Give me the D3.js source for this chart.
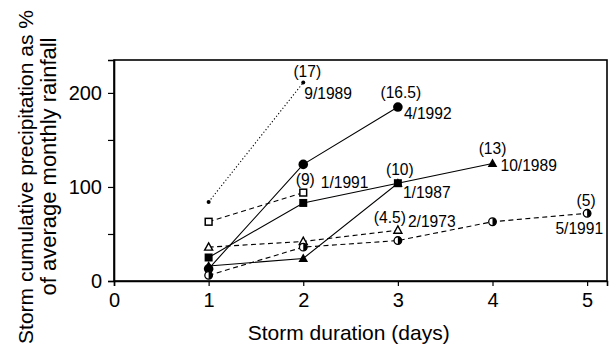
<!DOCTYPE html>
<html><head><meta charset="utf-8">
<script src="https://cdn.jsdelivr.net/npm/d3@7"></script>
<style>
html,body{margin:0;padding:0;background:#fff;}
text{font-family:"Liberation Sans",Arial,Helvetica,sans-serif;fill:#000;}
</style>
</head><body>
<svg id="chart" width="611" height="348"></svg>
<script>
// ---- data ----
const seriesNames = ["9/1989", "4/1992", "1/1991", "1/1987", "10/1989", "2/1973", "5/1991"];
const stormTotals = ["(17)", "(16.5)", "(9)", "(10)", "(13)", "(4.5)", "(5)"];
const durations9_1989  = [1, 2];
const values9_1989     = [84, 211];
const durations4_1992  = [1, 2, 3];
const values4_1992     = [13, 124, 185];
const durations1_1991  = [1, 2];
const values1_1991     = [63, 94];
const durations1_1987  = [1, 2, 3];
const values1_1987     = [25, 83, 104];
const durations10_1989 = [1, 2, 3, 4];
const values10_1989    = [16, 24, 104, 125];
const durations2_1973  = [1, 2, 3];
const values2_1973     = [36, 42, 54];
const durations5_1991  = [1, 2, 3, 4, 5];
const values5_1991     = [6, 36, 43, 63, 72];
const xTicks = [0, 1, 2, 3, 4, 5];
const yTicks = [0, 50, 100, 150, 200];
const yTickLabels = ["0", "", "100", "", "200"];

// ---- styles ----
const styleOf = {
  "9/1989":  {dash: "1.2,2.2", marker: "dot"},
  "4/1992":  {dash: null, marker: "circle"},
  "1/1991":  {dash: "5,3.5", marker: "openSquare"},
  "1/1987":  {dash: null, marker: "square"},
  "10/1989": {dash: null, marker: "triangle"},
  "2/1973":  {dash: "5,3.5", marker: "openTriangle"},
  "5/1991":  {dash: "5,3.5", marker: "half"}
};
// label offsets relative to the last point: [dx,dy,anchor] for total, [dx,dy,anchor] for name
const labelOffsets = {
  "9/1989":  [[4, -6, "middle"], [1, 16, "start"]],
  "4/1992":  [[3, -9, "middle"], [6, 12, "start"]],
  "1/1991":  [[2, -8, "middle"], [17.5, -4.5, "start"]],
  "1/1987":  [[2, -8, "middle"], [5, 15, "start"]],
  "10/1989": [[0, -9, "middle"], [8, 8, "start"]],
  "2/1973":  [[-8, -7.5, "middle"], [10, -3, "start"]],
  "5/1991":  [[-1, -7, "middle"], [16, 21, "end"]]
};

const allDur = [durations9_1989, durations4_1992, durations1_1991, durations1_1987, durations10_1989, durations2_1973, durations5_1991];
const allVal = [values9_1989, values4_1992, values1_1991, values1_1987, values10_1989, values2_1973, values5_1991];
const series = seriesNames.map((n, i) => ({
  name: n, total: stormTotals[i],
  points: allDur[i].map((d, j) => ({x: d, y: allVal[i][j]}))
}));

const svg = d3.select("#chart");
const x = d3.scaleLinear().domain([0, 5.21]).range([114, 607]);
const y = d3.scaleLinear().domain([0, 235]).range([281, 60]);

// frame
svg.append("rect")
  .attr("x", x(0)).attr("y", y(235))
  .attr("width", x(5.21) - x(0)).attr("height", y(0) - y(235))
  .attr("fill", "none").attr("stroke", "#000").attr("stroke-width", 1.6);

// axes
const yAxis = d3.axisLeft(y).tickValues(yTicks)
  .tickFormat((d, i) => yTickLabels[i]).tickSize(6).tickPadding(6);
const gy = svg.append("g").attr("transform", `translate(${x(0)},0)`).call(yAxis);
const xAxis = d3.axisBottom(x).tickValues(xTicks).tickFormat(d3.format("d")).tickSize(5).tickPadding(6.5);
const gx = svg.append("g").attr("transform", `translate(0,${y(0)})`).call(xAxis);
[gx, gy].forEach(g => {
  g.select(".domain").attr("stroke", "#000").attr("stroke-width", 1.6);
  g.selectAll(".tick line").attr("stroke", "#000").attr("stroke-width", 1.2);
  g.selectAll(".tick text").attr("font-size", 20).attr("font-family", '"Liberation Sans",Arial,sans-serif').attr("fill", "#000");
});

// axis titles
svg.append("text").attr("x", 348.7).attr("y", 340).attr("text-anchor", "middle")
  .attr("font-size", 21).text("Storm duration (days)");
svg.append("text").attr("transform", "translate(33,177) rotate(-90)").attr("text-anchor", "middle")
  .attr("font-size", 21).text("Storm cumulative precipitation as %");
svg.append("text").attr("transform", "translate(56,166.5) rotate(-90)").attr("text-anchor", "middle")
  .attr("font-size", 22).text("of average monthly rainfall");

// lines
const line = d3.line().x(d => x(d.x)).y(d => y(d.y));
svg.append("g").selectAll("path").data(series).join("path")
  .attr("d", d => line(d.points))
  .attr("fill", "none").attr("stroke", "#000").attr("stroke-width", 1.1)
  .attr("stroke-dasharray", d => styleOf[d.name].dash);

// markers
const mg = svg.append("g");
series.forEach(s => {
  const m = styleOf[s.name].marker;
  s.points.forEach(p => {
    const cx = x(p.x), cy = y(p.y);
    const g = mg.append("g").attr("transform", `translate(${cx},${cy})`);
    if (m === "dot") {
      g.append("circle").attr("r", 2).attr("fill", "#000");
    } else if (m === "circle") {
      g.append("circle").attr("r", 4.8).attr("fill", "#000");
    } else if (m === "square") {
      g.append("rect").attr("x", -4).attr("y", -4).attr("width", 8).attr("height", 8).attr("fill", "#000");
    } else if (m === "openSquare") {
      g.append("rect").attr("x", -3.4).attr("y", -3.4).attr("width", 6.8).attr("height", 6.8)
        .attr("fill", "#fff").attr("stroke", "#000").attr("stroke-width", 1.5);
    } else if (m === "triangle") {
      g.append("path").attr("d", "M0,-5L4.8,3.5L-4.8,3.5Z").attr("fill", "#000");
    } else if (m === "openTriangle") {
      g.append("path").attr("d", "M0,-4.3L4,3L-4,3Z").attr("fill", "#fff")
        .attr("stroke", "#000").attr("stroke-width", 1.4);
    } else if (m === "half") {
      g.append("circle").attr("r", 3.8).attr("fill", "#fff").attr("stroke", "#000").attr("stroke-width", 1.3);
      g.append("path").attr("d", "M0,-3.8A3.8,3.8 0 0 1 0,3.8Z").attr("fill", "#000");
    }
  });
});

// labels
const lg = svg.append("g").attr("font-size", 15.6);
series.forEach(s => {
  const last = s.points[s.points.length - 1];
  const px = x(last.x), py = y(last.y);
  const [o1, o2] = labelOffsets[s.name];
  lg.append("text").attr("x", px + o1[0]).attr("y", py + o1[1]).attr("text-anchor", o1[2]).text(s.total);
  lg.append("text").attr("x", px + o2[0]).attr("y", py + o2[1]).attr("text-anchor", o2[2]).text(s.name);
});
</script>
</body></html>
